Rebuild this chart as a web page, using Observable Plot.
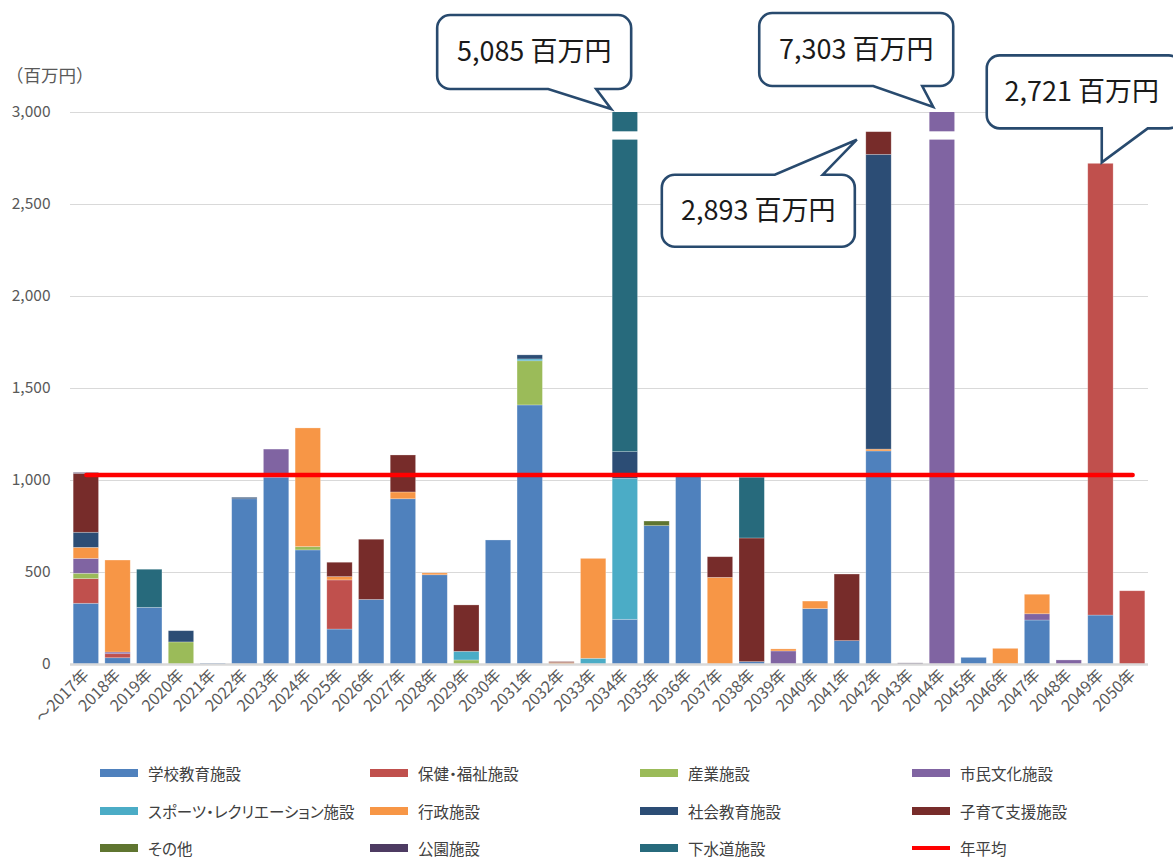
<!DOCTYPE html>
<html><head><meta charset="utf-8">
<script src="https://cdn.jsdelivr.net/npm/d3@7"></script>
<script src="https://cdn.jsdelivr.net/npm/@observablehq/plot@0.6"></script>
<style>
body{margin:0;background:#fff;font-family:"Noto Sans CJK JP","Noto Sans",sans-serif;}
#wrap{position:relative;width:1173px;height:858px;overflow:hidden;background:#fff;}
#wrap svg{position:absolute;left:0;top:0;}
.li{position:absolute;display:flex;align-items:center;height:16px;line-height:16px;font-size:15.5px;color:#404040;white-space:nowrap;font-feature-settings:"palt";}
.sw{width:38px;height:8px;margin-right:10px;flex:none;}
</style></head><body><div id="wrap"></div>
<script>
// ---- data (百万円) ----
const years = ["～2017年","2018年","2019年","2020年","2021年","2022年","2023年","2024年","2025年","2026年",
  "2027年","2028年","2029年","2030年","2031年","2032年","2033年","2034年","2035年","2036年",
  "2037年","2038年","2039年","2040年","2041年","2042年","2043年","2044年","2045年","2046年",
  "2047年","2048年","2049年","2050年"];
const types = ["学校教育施設","保健・福祉施設","産業施設","市民文化施設","スポーツ・レクリエーション施設",
  "行政施設","社会教育施設","子育て支援施設","その他","公園施設","下水道施設"];
const colors = ["#4F81BD","#C0504D","#9BBB59","#8064A2","#4BACC6","#F79646","#2C4D75","#772C2A","#5F7530","#4D3B62","#276A7C"];
const averageLabel = "年平均";
const averageColor = "#FF0000";

const school    = [330,34,308,0,5,898,1015,620,190,351,898,485,0,674,1408,0,0,243,752,1020,0,13,0,301,127,1158,0,0,36,0,239,0,266,0];
const welfare   = [134,22,0,0,0,0,0,0,267,0,0,0,0,0,0,0,0,0,0,0,0,0,0,0,0,0,0,0,0,0,0,0,2455,398];
const industry  = [29,0,0,120,0,0,0,18,0,0,0,0,22,0,240,0,0,0,0,0,0,0,0,0,0,0,0,0,0,0,0,0,0,0];
const culture   = [81,9,0,0,0,0,153,0,0,0,0,0,0,0,0,0,0,0,0,0,0,0,71,0,0,0,0,7303,0,0,34,22,0,0];
const sports    = [0,0,0,0,0,0,0,0,0,0,0,0,47,0,10,0,31,766,0,0,0,0,0,0,0,0,0,0,0,0,0,0,0,0];
const admin     = [60,500,0,0,0,0,0,645,18,0,37,10,0,0,0,8,543,0,0,0,471,0,11,41,0,10,0,0,0,85,106,0,0,0];
const socialEd  = [82,0,0,61,0,8,0,0,0,0,0,0,0,0,22,0,0,145,0,0,0,0,0,0,0,1602,0,0,0,0,0,0,0,0];
const childcare = [320,0,0,0,0,0,0,0,78,327,201,0,252,0,0,5,0,0,0,0,112,672,0,0,362,123,0,0,0,0,0,0,0,0];
const other     = [0,0,0,0,0,0,0,0,0,0,0,0,0,0,0,0,0,0,25,0,0,0,0,0,0,0,0,0,0,0,0,0,0,0];
const park      = [5,0,0,0,0,0,0,0,0,0,0,0,0,0,0,0,0,0,0,0,0,0,0,0,0,0,6,0,0,0,0,0,0,0];
const sewer     = [0,0,207,0,0,0,0,0,0,0,0,0,0,0,0,0,0,3931,0,0,0,330,0,0,0,0,0,0,0,0,0,0,0,0];

const yTicks = [0,500,1000,1500,2000,2500,3000];
const calloutYears = ["2034年","2042年","2044年","2049年"];

// ---- derived ----
const series = [school,welfare,industry,culture,sports,admin,socialEd,childcare,other,park,sewer];
const rows = [];
years.forEach((y,i)=>types.forEach((t,k)=>rows.push({year:y,type:t,value:series[k][i]})));
const totals = years.map((y,i)=>d3.sum(series,s=>s[i]));
const avg = d3.mean(totals);
const yMax = 3000;
const breaks = years.filter((y,i)=>totals[i]>yMax).map(y=>({year:y}));

const FONT = '"Noto Sans CJK JP","Noto Sans",sans-serif';
const plot = Plot.plot({
  width:1173, height:750,
  marginLeft:70, marginRight:25, marginTop:112, marginBottom:86,
  style:{fontFamily:FONT, fontSize:"15px", color:"#595959", background:"transparent", overflow:"visible"},
  x:{domain:years, paddingInner:0.2, paddingOuter:0.1, round:false, label:null},
  y:{domain:[0,yMax], label:null},
  color:{domain:types, range:colors},
  marks:[
    Plot.gridY(yTicks,{stroke:"#d9d9d9", strokeOpacity:1, strokeWidth:1.2}),
    Plot.barY(rows,{x:"year", y:"value", fill:"type", clip:true, stroke:"#ffffff", strokeOpacity:0.35, strokeWidth:0.7}),
    Plot.barY(breaks,{x:"year", y1:()=>2850, y2:()=>2895, fill:"white", insetLeft:-2, insetRight:-2, ariaLabel:"break"}),
    Plot.ruleY([0],{stroke:"#d9d9d9", strokeWidth:2.5}),
    Plot.lineY(years.map(y=>({year:y, v:avg})),{x:"year", y:"v", stroke:averageColor, strokeWidth:4.5}),
    Plot.axisY(yTicks,{tickSize:0, tickPadding:20, fontSize:15.5, fill:"#595959", tickFormat:d3.format(","), label:null}),
    Plot.axisX({tickSize:0, tickRotate:-45, tickPadding:8, fontSize:16, fill:"#595959", label:null})
  ]
});
document.getElementById("wrap").appendChild(plot);

const svg = d3.select(plot);
// slant the axis-break bands
svg.selectAll('g[aria-label="break"] rect').each(function(){
  const r=d3.select(this);
  const x=+r.attr("x"), y=+r.attr("y"), w=+r.attr("width"), h=+r.attr("height");
  const cx=x+w/2, cy=y+h/2;
  r.attr("transform",`translate(${cx},${cy}) skewY(6) translate(${-cx},${-cy})`);
});

// unit label
svg.append("text").attr("x",6).attr("y",82).attr("font-size",17.5).attr("fill","#595959")
  .attr("text-anchor","start").attr("font-family",FONT).text("（百万円）");

// callouts
const sx = plot.scale("x"), sy = plot.scale("y");
const layout = {
  "2034年":{dx:-1, dy:-3, L:-174, R:20, T:-94, B:-20, side:"bottom", a:-63, b:-15},
  "2044年":{dx:4,  dy:-5, L:-174, R:20, T:-94, B:-21, side:"bottom", a:-60, b:-11},
  "2049年":{dx:14, dy:-1, L:-115, R:80, T:-107, B:-34, side:"bottom", a:0, b:46},
  "2042年":{dx:-9, dy:8,  L:-195, R:-2, T:35, B:107, side:"top", a:-82, b:-34}
};
function bubble(L,T,R,B,r,side,a,b,tx,ty){
  let p=`M${L+r},${T}`;
  if(side==="top") p+=`L${a},${T}L${tx},${ty}L${b},${T}`;
  p+=`L${R-r},${T}A${r},${r} 0 0 1 ${R},${T+r}L${R},${B-r}A${r},${r} 0 0 1 ${R-r},${B}`;
  if(side==="bottom") p+=`L${b},${B}L${tx},${ty}L${a},${B}`;
  p+=`L${L+r},${B}A${r},${r} 0 0 1 ${L},${B-r}L${L},${T+r}A${r},${r} 0 0 1 ${L+r},${T}Z`;
  return p;
}
const gC = svg.append("g");
calloutYears.forEach(yr=>{
  const i = years.indexOf(yr), o = layout[yr];
  const tx = sx.apply(yr)+o.dx, ty = sy.apply(Math.min(totals[i],yMax))+o.dy;
  const L=tx+o.L, R=tx+o.R, T=ty+o.T, B=ty+o.B;
  gC.append("path").attr("d",bubble(L,T,R,B,13,o.side,tx+o.a,tx+o.b,tx,ty))
    .attr("fill","#fff").attr("stroke","#284a6e").attr("stroke-width",2.6).attr("stroke-linejoin","miter");
  const cxText = yr==="2049年" ? L+95 : (L+R)/2;
  gC.append("text").attr("x",cxText).attr("y",(T+B)/2+9).attr("text-anchor","middle")
    .attr("font-size",27).attr("fill","#1a1a1a").attr("font-family",FONT)
    .text(d3.format(",")(totals[i])+" 百万円");
});

// legend
const wrap = document.getElementById("wrap");
const legendItems = types.map((t,k)=>({label:t, color:colors[k], line:false}))
  .concat([{label:averageLabel, color:averageColor, line:true}]);
const colX = [100,370,640,912], rowY = [773,811,848];
legendItems.forEach((it,k)=>{
  const d=document.createElement("div"); d.className="li";
  d.style.left=colX[k%4]+"px"; d.style.top=(rowY[Math.floor(k/4)]-8)+"px";
  const s=document.createElement("span"); s.className="sw"; s.style.background=it.color;
  if(it.line) s.style.height="4px";
  d.appendChild(s); d.appendChild(document.createTextNode(it.label)); wrap.appendChild(d);
});
</script></body></html>
